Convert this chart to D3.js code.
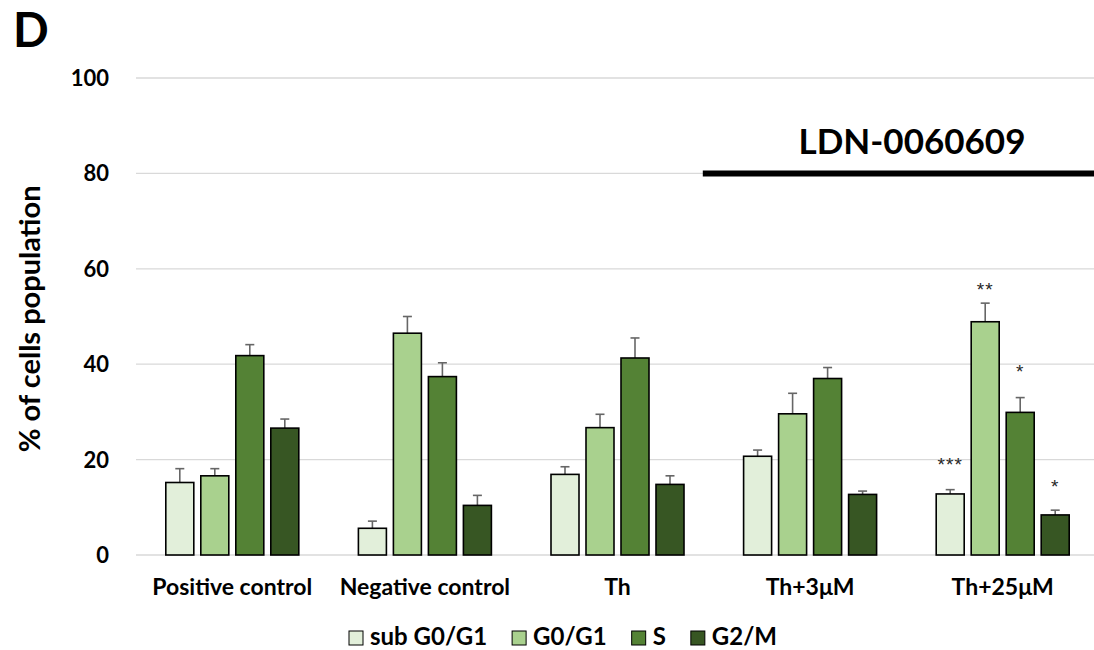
<!DOCTYPE html>
<html>
<head>
<meta charset="utf-8">
<script src="https://cdn.jsdelivr.net/npm/d3@7"></script>
<style>
  body { margin: 0; background: #fff; }
  svg text { font-family: Lato, "Open Sans", sans-serif; font-weight: bold; fill: #000; }
</style>
</head>
<body>
<svg id="chart" width="1094" height="650"></svg>
<script>
// data (% of cells, mean and sd)
var categories = ["Positive control", "Negative control", "Th", "Th+3μM", "Th+25μM"]
var series = ["sub G0/G1", "G0/G1", "S", "G2/M"]
var colors = ["#e2efda", "#a9d18e", "#548235", "#375623"]
var subG0G1 = [15.2, 5.6, 16.9, 20.7, 12.8]
var G0G1 = [16.6, 46.5, 26.7, 29.6, 48.9]
var S = [41.8, 37.4, 41.3, 37.0, 29.9]
var G2M = [26.6, 10.4, 14.8, 12.7, 8.4]
var errSub = [2.9, 1.5, 1.6, 1.3, 0.9]
var errG0G1 = [1.5, 3.5, 2.8, 4.3, 3.9]
var errS = [2.3, 2.9, 4.2, 2.3, 3.1]
var errG2M = [1.9, 2.1, 1.8, 0.7, 1.0]
var yTicks = [0, 20, 40, 60, 80, 100]
// significance marks on Th+25μM: [series index, label, y value of the mark]
var sigMarks = [[0, "***", 19.9], [1, "**", 56.5], [2, "*", 39.5], [3, "*", 15.3]]

var values = [subG0G1, G0G1, S, G2M]
var errs = [errSub, errG0G1, errS, errG2M]

var svg = d3.select("#chart")
var plotLeft = 136, plotRight = 1099, plotTop = 78, plotBottom = 555

var y = d3.scaleLinear().domain([0, 100]).range([plotBottom, plotTop])
var x0 = d3.scaleBand().domain(categories).range([plotLeft, plotRight])
var x1 = d3.scaleBand().domain(series).range([-70, 70]).paddingInner(0.2).paddingOuter(0.1)

// gridlines
svg.append("g").selectAll("line").data(yTicks).enter().append("line")
  .attr("x1", plotLeft).attr("x2", 1094)
  .attr("y1", d => y(d)).attr("y2", d => y(d))
  .attr("stroke", "#d9d9d9").attr("stroke-width", 1.3)

// y tick labels
svg.append("g").selectAll("text").data(yTicks).enter().append("text")
  .attr("x", 109).attr("y", d => y(d)).attr("dy", "0.36em")
  .attr("text-anchor", "end").style("font-size", "22px")
  .text(d => d)

// y title
svg.append("text")
  .attr("transform", "translate(40," + y(49.5) + ") rotate(-90)")
  .attr("text-anchor", "middle").style("font-size", "29px")
  .text("% of cells population")

// panel letter
svg.append("text").attr("x", 13).attr("y", 47).style("font-size", "47px").text("D")

// bars
var rows = []
categories.forEach(function(c, ci){
  series.forEach(function(s, si){
    rows.push({cat: c, ser: s, si: si, v: values[si][ci], e: errs[si][ci]})
  })
})
var bx = d => x0(d.cat) + x0.bandwidth() / 2 + x1(d.ser)
var bw = x1.bandwidth()

var errG = svg.append("g")
errG.selectAll(".stem").data(rows).enter().append("line").attr("class", "stem")
  .attr("x1", d => bx(d) + bw / 2).attr("x2", d => bx(d) + bw / 2)
  .attr("y1", d => y(d.v)).attr("y2", d => y(d.v + d.e))
  .attr("stroke", "#666").attr("stroke-width", 1.6)
errG.selectAll(".cap").data(rows).enter().append("line").attr("class", "cap")
  .attr("x1", d => bx(d) + bw / 2 - 4.5).attr("x2", d => bx(d) + bw / 2 + 4.5)
  .attr("y1", d => y(d.v + d.e)).attr("y2", d => y(d.v + d.e))
  .attr("stroke", "#666").attr("stroke-width", 1.6)

svg.append("g").selectAll("rect").data(rows).enter().append("rect")
  .attr("x", d => bx(d)).attr("width", bw)
  .attr("y", d => y(d.v)).attr("height", d => y(0) - y(d.v))
  .attr("fill", d => colors[d.si]).attr("stroke", "#000").attr("stroke-width", 1.6)

// significance asterisks
var last = categories[categories.length - 1]
svg.append("g").selectAll("text").data(sigMarks).enter().append("text")
  .attr("x", d => x0(last) + x0.bandwidth() / 2 + x1(series[d[0]]) + bw / 2)
  .attr("y", d => y(d[2]) + 11)
  .attr("text-anchor", "middle")
  .style("font-family", "'Liberation Sans', Arial, sans-serif")
  .style("font-size", "19px").style("font-weight", "normal")
  .style("letter-spacing", "1px").style("fill", "#262626")
  .text(d => d[1])

// category labels
svg.append("g").selectAll("text").data(categories).enter().append("text")
  .attr("x", d => x0(d) + x0.bandwidth() / 2).attr("y", 595)
  .attr("text-anchor", "middle").style("font-size", "23px")
  .text(d => d)

// compound bracket
svg.append("line")
  .attr("x1", x0("Th+3μM") - 11).attr("x2", 1094)
  .attr("y1", y(80)).attr("y2", y(80))
  .attr("stroke", "#000").attr("stroke-width", 6)
svg.append("text").attr("x", 912).attr("y", 154)
  .attr("text-anchor", "middle").style("font-size", "35px")
  .text("LDN-0060609")

// legend
var leg = svg.append("g")
var lx = 349
series.forEach(function(s, i){
  leg.append("rect").attr("x", lx).attr("y", 631).attr("width", 14).attr("height", 14)
    .attr("fill", colors[i]).attr("stroke", "#000").attr("stroke-width", 1)
  var t = leg.append("text").attr("x", lx + 21).attr("y", 645).style("font-size", "24px").text(s)
  lx += 21 + t.node().getComputedTextLength() + 25
})
</script>
</body>
</html>
